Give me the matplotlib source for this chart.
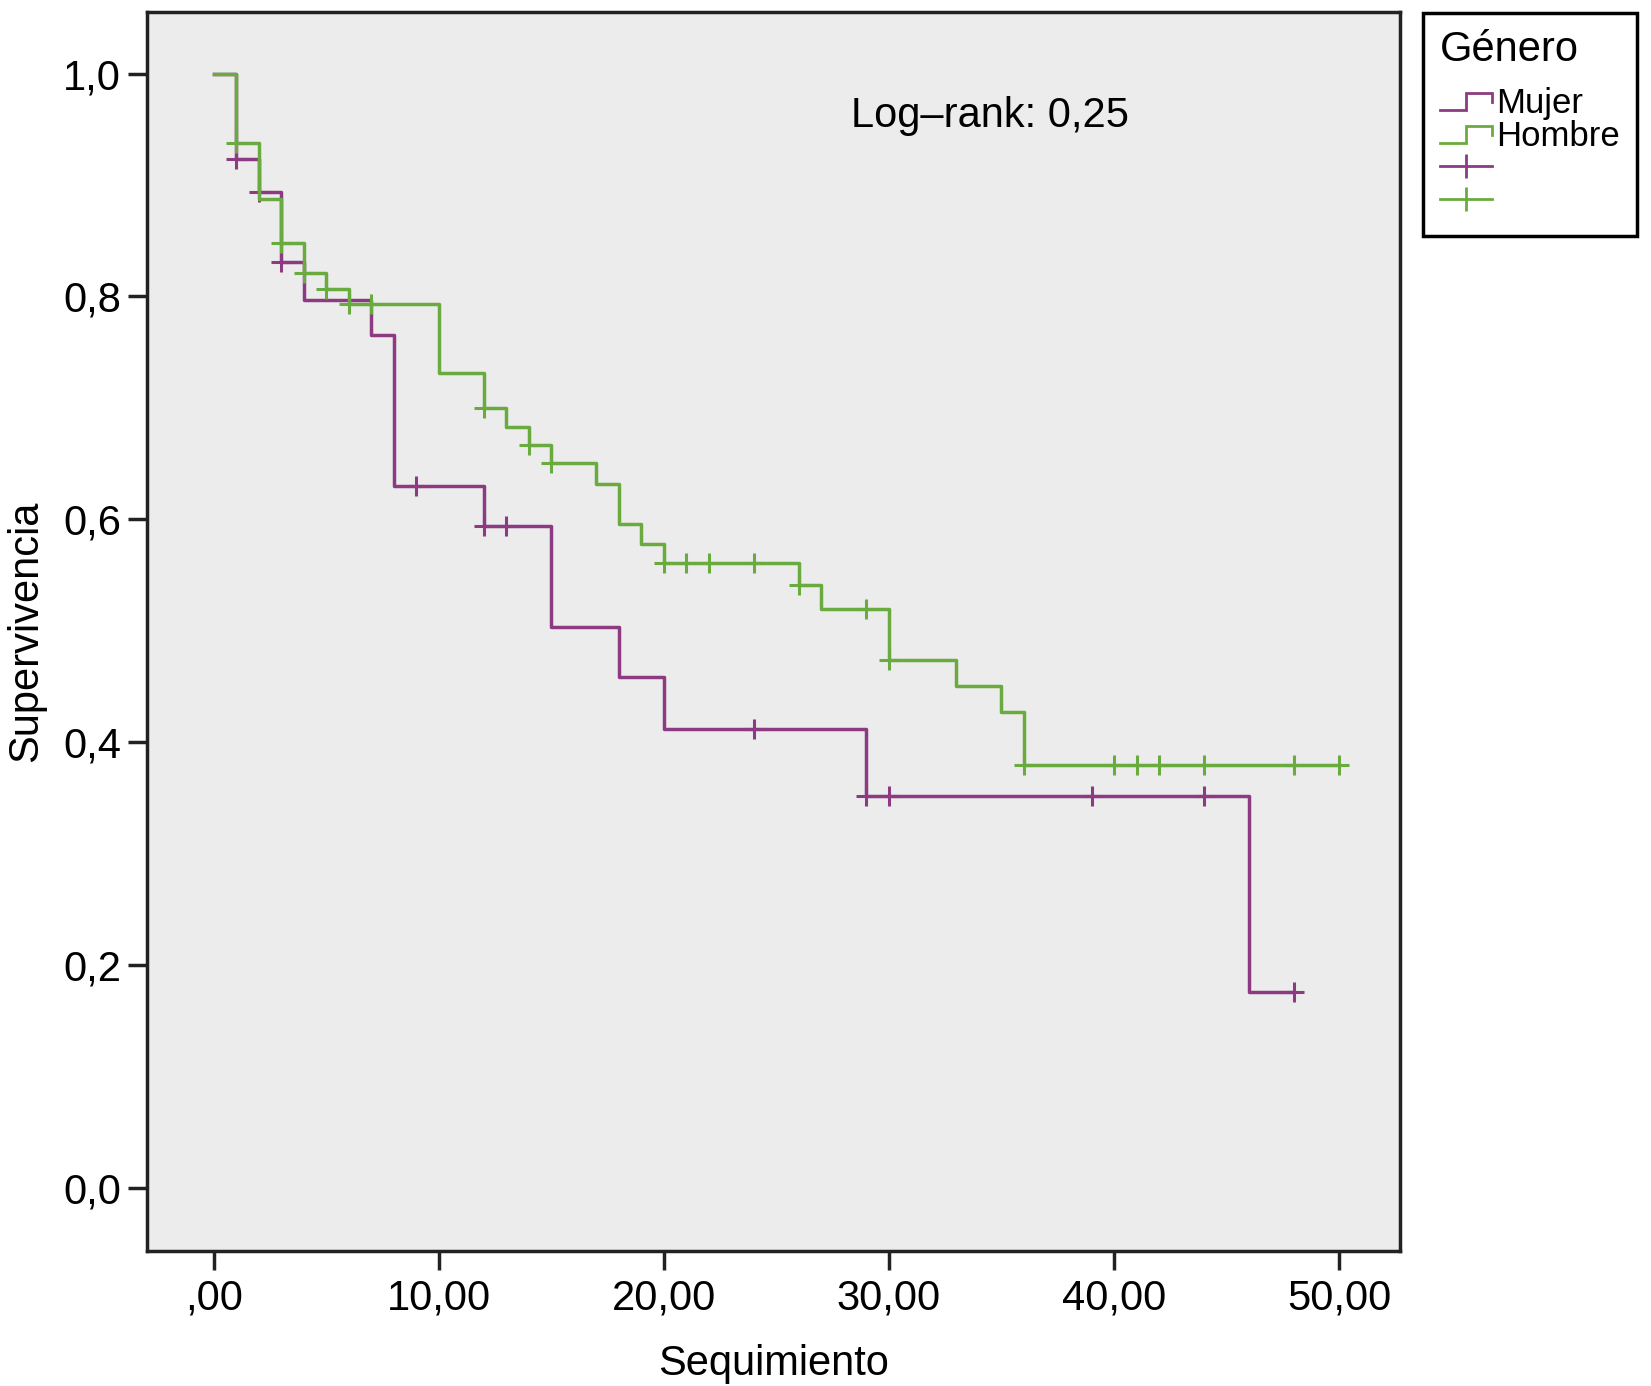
import numpy as np
from matplotlib import pyplot as plt
from matplotlib.lines import Line2D
from matplotlib.legend_handler import HandlerBase

plt.rcParams['font.family'] = ['Liberation Sans', 'DejaVu Sans']

# Kaplan-Meier steps (time, survival after the step)
mujer_t = [0, 1, 2, 3, 4, 7, 8, 12, 15, 18, 20, 29, 46, 48]
mujer_s = [1.0, 0.923, 0.894, 0.831, 0.797, 0.765, 0.630, 0.594, 0.503, 0.458, 0.412, 0.352, 0.176, 0.176]
mujer_cens = [1, 2, 3, 9, 12, 13, 24, 29, 30, 39, 44, 48]

hombre_t = [0, 1, 2, 3, 4, 5, 6, 10, 12, 13, 14, 15, 17, 18, 19, 20, 26, 27, 30, 33, 35, 36, 50]
hombre_s = [1.0, 0.938, 0.887, 0.848, 0.821, 0.807, 0.793, 0.731, 0.700, 0.683, 0.667, 0.650,
            0.632, 0.596, 0.578, 0.561, 0.541, 0.519, 0.474, 0.450, 0.427, 0.379, 0.379]
hombre_cens = [1, 3, 4, 5, 6, 7, 12, 14, 15, 20, 21, 22, 24, 26, 29, 30, 36, 40, 41, 42, 44, 48, 50]

xticks = [0, 10, 20, 30, 40, 50]
xlabels = [',00', '10,00', '20,00', '30,00', '40,00', '50,00']
yticks = [0.0, 0.2, 0.4, 0.6, 0.8, 1.0]
ylabels = ['0,0', '0,2', '0,4', '0,6', '0,8', '1,0']

purple = '#8c3b82'
green = '#6aab3f'
lw = 2.5


def surv_at(t, s, times):
    idx = np.searchsorted(t, times, side='right') - 1
    return np.array(s)[idx]


class StepHandler(HandlerBase):
    def create_artists(self, legend, orig_handle, xdescent, ydescent, width, height, fontsize, trans):
        x0, y0 = -xdescent, -ydescent
        xs = [x0, x0 + 0.5 * width, x0 + 0.5 * width, x0 + width, x0 + width]
        ys = [y0 + 0.1 * height, y0 + 0.1 * height, y0 + 0.8 * height, y0 + 0.8 * height, y0 + 0.45 * height]
        line = Line2D(xs, ys, color=orig_handle.get_color(), lw=orig_handle.get_linewidth(),
                      solid_joinstyle='miter')
        line.set_transform(trans)
        return [line]


fig = plt.figure(figsize=(16.51, 13.86), dpi=100)
ax = fig.add_axes([0.0893, 0.0974, 0.848 - 0.0893, 0.991 - 0.0974])
ax.set_facecolor('#ececec')

ax.step(mujer_t, mujer_s, where='post', color=purple, lw=lw)
ax.plot(mujer_cens, surv_at(mujer_t, mujer_s, mujer_cens), ls='none', marker='+',
        ms=15, mew=2.2, color=purple)
ax.step(hombre_t, hombre_s, where='post', color=green, lw=lw)
ax.plot(hombre_cens, surv_at(hombre_t, hombre_s, hombre_cens), ls='none', marker='+',
        ms=15, mew=2.2, color=green)

ax.set_xlim(-2.95, 52.71)
ax.set_ylim(-0.0568, 1.0548)
ax.set_xticks(xticks)
ax.set_xticklabels(xlabels)
ax.set_yticks(yticks)
ax.set_yticklabels(ylabels)
ax.tick_params(axis='both', labelsize=30, width=2.5, length=14, color='#222222')
ax.tick_params(axis='y', pad=5)
ax.tick_params(axis='x', pad=6)
for sp in ax.spines.values():
    sp.set_linewidth(2.5)
    sp.set_color('#222222')

ax.set_xlabel('Sequimiento', fontsize=30, labelpad=18)
ax.set_ylabel('Supervivencia', fontsize=30, labelpad=12)

ax.text(28.3, 0.962, 'Log\u2013rank: 0,25', fontsize=30, va='center', ha='left')

h_m = Line2D([], [], color=purple, lw=2)
h_h = Line2D([], [], color=green, lw=2)
c_m = Line2D([], [], color=purple, lw=2, marker='|', ms=17, mew=2)
c_h = Line2D([], [], color=green, lw=2, marker='|', ms=17, mew=2)
leg = fig.legend([h_m, h_h, c_m, c_h], ['Mujer', 'Hombre', '', ''],
                 handler_map={h_m: StepHandler(), h_h: StepHandler()},
                 loc='upper left', bbox_to_anchor=(1423 / 1651, 1 - 12.6 / 1386),
                 bbox_transform=fig.transFigure, borderaxespad=0, numpoints=1,
                 fontsize=25, title='Género', title_fontsize=30, alignment='left',
                 fancybox=False, framealpha=1, handlelength=1.5, handletextpad=0.1,
                 labelspacing=0.0, borderpad=0.5)
leg._legend_box.sep = 12
leg.get_frame().set_edgecolor('black')
leg.get_frame().set_linewidth(2.5)

fig.savefig('out.png', dpi=100)
